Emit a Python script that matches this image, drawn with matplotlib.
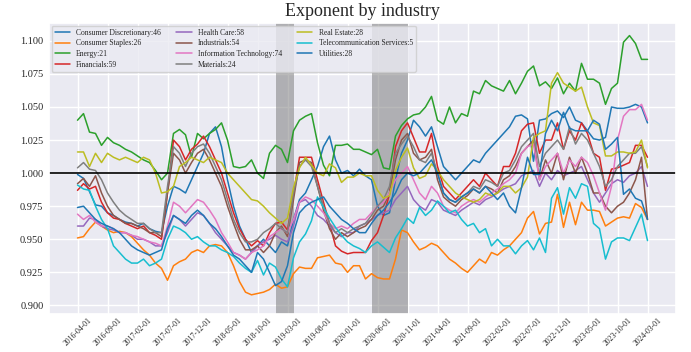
import numpy as np
import pandas as pd
import matplotlib
matplotlib.use('Agg')
import matplotlib.pyplot as plt
import seaborn as sns

# monthly observations, 2016-04 .. 2024-03
dates = pd.date_range('2016-04-01', periods=96, freq='MS').strftime('%Y-%m-%d').tolist()

industries = ['Consumer Discretionary', 'Consumer Staples', 'Energy', 'Financials',
              'Health Care', 'Industrials', 'Information Technology', 'Materials',
              'Real Estate', 'Telecommunication Services', 'Utilities']
counts = [46, 26, 21, 59, 58, 54, 74, 24, 28, 5, 28]

consumer_discretionary = [
    0.999, 0.996, 0.986, 0.976, 0.975, 0.970, 0.968, 0.965, 0.963, 0.962, 0.960, 0.962,
    0.958, 0.956, 0.955, 0.975, 0.990, 0.988, 0.985, 0.995, 1.005, 1.015, 1.030, 1.035,
    1.020, 0.995, 0.975, 0.960, 0.950, 0.940, 0.945, 0.950, 0.945, 0.940, 0.948, 0.945,
    0.965, 0.980, 0.985, 0.995, 1.005, 1.020, 1.028, 1.010, 1.000, 1.002, 0.998, 1.003,
    0.998, 0.995, 0.975, 0.968, 0.970, 0.995, 1.015, 1.025, 1.040, 1.035, 1.028, 1.035,
    1.020, 1.005, 1.000, 0.995, 1.000, 1.005, 1.010, 1.008, 1.015, 1.020, 1.025, 1.030,
    1.035, 1.043, 1.044, 1.041, 1.009, 1.040, 1.041, 1.045, 1.047, 1.042, 1.050, 1.040,
    1.038, 1.032, 1.026, 1.025, 1.027, 1.050, 1.049, 1.049, 1.050, 1.052, 1.050, 1.038]
consumer_staples = [
    0.951, 0.952, 0.958, 0.963, 0.960, 0.957, 0.955, 0.956, 0.955, 0.952, 0.947, 0.942,
    0.938, 0.932, 0.928, 0.919, 0.930, 0.933, 0.935, 0.940, 0.942, 0.940, 0.945, 0.946,
    0.945, 0.940, 0.930, 0.918, 0.910, 0.908, 0.909, 0.910, 0.912, 0.916, 0.913, 0.914,
    0.924, 0.929, 0.928, 0.928, 0.936, 0.937, 0.938, 0.932, 0.931, 0.925, 0.930, 0.930,
    0.920, 0.924, 0.921, 0.920, 0.920, 0.935, 0.957, 0.955, 0.948, 0.942, 0.944, 0.947,
    0.945, 0.940, 0.935, 0.932, 0.928, 0.925, 0.930, 0.935, 0.932, 0.940, 0.938, 0.942,
    0.945, 0.950, 0.955, 0.966, 0.971, 0.954, 0.962, 0.963, 0.984, 0.959, 0.978, 0.961,
    0.978, 0.972, 0.972, 0.971, 0.960, 0.963, 0.966, 0.967, 0.966, 0.977, 0.974, 0.965]
energy = [
    1.040, 1.045, 1.031, 1.030, 1.021, 1.027, 1.023, 1.021, 1.018, 1.016, 1.013, 1.010,
    1.008, 1.002, 0.995, 1.000, 1.030, 1.033, 1.029, 1.012, 1.030, 1.026, 1.030, 1.033,
    1.038, 1.025, 1.005, 1.004, 1.005, 1.010, 1.000, 0.996, 1.015, 1.021, 1.018, 1.008,
    1.032, 1.040, 1.043, 1.045, 1.023, 1.006, 0.998, 1.021, 1.021, 1.022, 1.018, 1.018,
    1.016, 1.014, 1.018, 1.004, 1.003, 1.028, 1.036, 1.041, 1.044, 1.045, 1.050, 1.058,
    1.040, 1.037, 1.050, 1.038, 1.045, 1.043, 1.062, 1.060, 1.070, 1.066, 1.064, 1.062,
    1.070, 1.060, 1.068, 1.077, 1.081, 1.066, 1.069, 1.064, 1.072, 1.060, 1.068, 1.062,
    1.083, 1.071, 1.071, 1.068, 1.052, 1.064, 1.068, 1.099, 1.104, 1.098, 1.086, 1.086]
financials = [
    0.987, 0.992, 0.988, 0.990, 0.978, 0.970, 0.966, 0.965, 0.962, 0.960, 0.958, 0.960,
    0.955, 0.953, 0.950, 0.985, 1.025, 1.020, 1.010, 1.018, 1.022, 1.028, 1.020, 1.010,
    1.000, 0.985, 0.970, 0.958, 0.950, 0.945, 0.949, 0.945, 0.955, 0.962, 0.963, 0.957,
    0.984, 1.012, 1.012, 1.012, 0.995, 0.978, 0.962, 0.945, 0.941, 0.939, 0.940, 0.940,
    0.940, 0.949, 0.955, 0.968, 0.984, 1.020, 1.032, 1.038, 1.027, 1.016, 1.016, 1.030,
    1.005, 0.990, 0.985, 0.980, 0.985, 0.990, 0.995, 0.990, 1.000, 0.995, 0.990, 1.005,
    1.005, 1.015, 1.032, 1.037, 1.038, 1.015, 1.025, 1.025, 1.038, 1.018, 1.032, 1.025,
    1.038, 1.030, 1.015, 1.012, 0.987, 1.003, 1.004, 1.006, 1.008, 1.021, 1.021, 1.012]
health_care = [
    0.960, 0.960, 0.966, 0.965, 0.960, 0.958, 0.957, 0.955, 0.955, 0.953, 0.950, 0.950,
    0.948, 0.945, 0.945, 0.955, 0.968, 0.965, 0.960, 0.965, 0.970, 0.968, 0.962, 0.955,
    0.950, 0.945, 0.940, 0.938, 0.935, 0.940, 0.945, 0.948, 0.950, 0.953, 0.950, 0.948,
    0.960, 0.978, 0.980, 0.975, 0.968, 0.965, 0.960, 0.955, 0.952, 0.955, 0.955, 0.960,
    0.962, 0.965, 0.968, 0.970, 0.972, 0.980, 0.985, 0.990, 0.980, 0.975, 0.972, 0.980,
    0.978, 0.972, 0.970, 0.968, 0.972, 0.975, 0.978, 0.976, 0.980, 0.982, 0.985, 0.988,
    0.990, 0.992, 0.998, 1.000, 1.002, 0.990, 1.000, 0.995, 1.002, 0.998, 1.000, 1.002,
    1.005, 0.995, 0.985, 0.978, 0.985, 0.992, 0.995, 0.993, 0.998, 1.000, 1.005, 0.990]
industrials = [
    0.992, 0.996, 0.990, 0.998, 0.985, 0.975, 0.968, 0.965, 0.962, 0.962, 0.960, 0.958,
    0.955, 0.955, 0.952, 0.985, 1.015, 1.010, 1.000, 1.008, 1.015, 1.018, 1.010, 1.000,
    0.990, 0.975, 0.962, 0.950, 0.942, 0.942, 0.945, 0.940, 0.945, 0.955, 0.960, 0.952,
    0.980, 1.008, 1.010, 1.008, 0.990, 0.972, 0.958, 0.950, 0.955, 0.952, 0.955, 0.958,
    0.960, 0.965, 0.972, 0.975, 0.985, 1.010, 1.025, 1.030, 1.015, 1.010, 1.012, 1.018,
    0.995, 0.982, 0.978, 0.975, 0.980, 0.983, 0.988, 0.985, 0.990, 0.988, 0.985, 0.995,
    0.998, 1.005, 1.015, 1.020, 1.025, 0.995, 1.010, 1.000, 1.015, 0.995, 1.012, 1.000,
    1.012, 1.000, 0.985, 0.985, 0.975, 0.970, 0.975, 0.978, 0.985, 0.995, 1.012, 0.965]
information_technology = [
    0.969, 0.965, 0.968, 0.963, 0.960, 0.960, 0.958, 0.955, 0.955, 0.953, 0.952, 0.950,
    0.948, 0.947, 0.945, 0.960, 0.978, 0.975, 0.970, 0.975, 0.980, 0.978, 0.972, 0.965,
    0.955, 0.948, 0.940, 0.938, 0.935, 0.940, 0.942, 0.945, 0.952, 0.955, 0.958, 0.955,
    0.965, 0.978, 0.982, 0.980, 0.975, 0.970, 0.962, 0.958, 0.960, 0.958, 0.962, 0.965,
    0.965, 0.970, 0.975, 0.978, 0.985, 0.995, 1.000, 1.005, 0.995, 0.985, 0.980, 0.990,
    0.985, 0.975, 0.972, 0.970, 0.975, 0.978, 0.980, 0.978, 0.982, 0.985, 0.988, 0.992,
    0.995, 1.000, 1.015, 1.020, 1.022, 0.995, 1.005, 1.010, 1.015, 1.000, 1.010, 1.005,
    1.012, 1.008, 0.998, 0.985, 0.972, 0.990, 1.025, 1.043, 1.048, 1.048, 1.052, 1.040]
materials = [
    1.004, 1.008, 1.003, 1.002, 0.995, 0.985, 0.978, 0.972, 0.968, 0.965, 0.962, 0.962,
    0.958, 0.955, 0.955, 0.990, 1.020, 1.015, 1.005, 1.015, 1.020, 1.022, 1.015, 1.005,
    0.995, 0.980, 0.965, 0.955, 0.948, 0.948, 0.950, 0.955, 0.958, 0.962, 0.958, 0.955,
    0.985, 1.005, 1.010, 1.005, 0.990, 0.975, 0.962, 0.955, 0.958, 0.955, 0.958, 0.960,
    0.962, 0.968, 0.975, 0.980, 0.990, 1.015, 1.022, 1.028, 1.020, 1.010, 1.008, 1.015,
    1.000, 0.985, 0.980, 0.978, 0.982, 0.985, 0.990, 0.988, 0.995, 0.993, 0.990, 1.000,
    1.002, 1.010, 1.020, 1.025, 1.030, 1.005, 1.015, 1.020, 1.025, 1.018, 1.035, 1.022,
    1.030, 1.025, 1.015, 1.005, 0.990, 0.995, 1.005, 1.010, 1.015, 1.015, 1.020, 1.005]
real_estate = [
    1.016, 1.016, 1.005, 1.015, 1.008, 1.015, 1.012, 1.010, 1.012, 1.010, 1.008, 1.012,
    1.010, 1.000, 0.985, 0.986, 0.990, 1.005, 1.008, 1.012, 1.010, 1.008, 1.012, 1.010,
    1.008, 1.000, 0.995, 0.990, 0.985, 0.980, 0.979, 0.975, 0.970, 0.966, 0.962, 0.966,
    0.989, 1.004, 1.012, 1.006, 1.000, 0.998, 1.007, 1.004, 0.993, 0.997, 0.997, 1.000,
    0.998, 0.998, 0.987, 0.981, 0.983, 1.002, 1.012, 1.019, 1.004, 0.996, 0.998, 1.007,
    1.002, 0.995, 0.990, 0.985, 0.982, 0.980, 0.978, 0.980, 0.985, 0.983, 0.985, 0.990,
    0.990, 0.985, 0.989, 0.997, 1.027, 1.030, 1.032, 1.068, 1.076, 1.068, 1.065, 1.062,
    1.065, 1.050, 1.038, 1.036, 1.013, 1.013, 1.016, 1.016, 1.015, 1.016, 1.025, 1.004]
telecom = [
    0.991, 0.988, 0.987, 0.975, 0.965, 0.958, 0.945, 0.940, 0.935, 0.932, 0.932, 0.935,
    0.930, 0.932, 0.935, 0.950, 0.960, 0.958, 0.955, 0.950, 0.952, 0.948, 0.945, 0.945,
    0.942, 0.940, 0.937, 0.932, 0.928, 0.925, 0.934, 0.923, 0.932, 0.929, 0.920, 0.914,
    0.936, 0.948, 0.954, 0.964, 0.982, 0.974, 0.966, 0.959, 0.953, 0.948, 0.945, 0.943,
    0.940, 0.945, 0.948, 0.944, 0.940, 0.951, 0.958, 0.966, 0.962, 0.974, 0.968, 0.972,
    0.979, 0.975, 0.970, 0.972, 0.965, 0.960, 0.962, 0.955, 0.958, 0.945, 0.950, 0.945,
    0.945, 0.939, 0.945, 0.949, 0.942, 0.951, 0.940, 0.981, 0.989, 0.969, 0.989, 0.981,
    0.992, 0.990, 0.962, 0.958, 0.935, 0.948, 0.951, 0.951, 0.949, 0.959, 0.969, 0.949]
utilities = [
    0.974, 0.975, 0.970, 0.965, 0.962, 0.960, 0.958, 0.955, 0.950, 0.945, 0.942, 0.940,
    0.938, 0.940, 0.942, 0.958, 0.968, 0.965, 0.962, 0.968, 0.972, 0.968, 0.962, 0.958,
    0.952, 0.945, 0.938, 0.935, 0.930, 0.925, 0.940, 0.935, 0.925, 0.915, 0.918, 0.930,
    0.955, 0.970, 0.975, 0.978, 0.980, 0.982, 0.975, 0.970, 0.965, 0.962, 0.958, 0.955,
    0.955, 0.962, 0.968, 0.972, 0.978, 0.985, 0.995, 1.000, 0.998, 1.000, 1.005, 1.010,
    1.000, 0.985, 0.980, 0.978, 0.982, 0.985, 0.988, 0.985, 0.990, 0.985, 0.980, 0.985,
    0.975, 0.970, 0.989, 1.012, 0.999, 0.999, 1.030, 1.040, 1.032, 1.046, 1.034, 1.032,
    1.032, 1.032, 1.040, 1.037, 1.018, 1.022, 1.027, 0.984, 0.988, 0.981, 0.979, 0.965]

series = [consumer_discretionary, consumer_staples, energy, financials, health_care,
          industrials, information_technology, materials, real_estate, telecom, utilities]

# shaded periods (start, end) in months
shade_periods = [('2019-01-01', '2019-04-01'), ('2020-05-01', '2020-11-01')]

sns.set_theme(style='darkgrid')
plt.rcParams['font.family'] = ['Liberation Serif', 'DejaVu Serif']
colors = plt.get_cmap('tab10').colors

fig = plt.figure(figsize=(6.91, 3.52), dpi=100)
ax = fig.add_axes([49 / 691, 38 / 352, 627 / 691, 291 / 352])

x = np.arange(len(dates))
for k, (name, n, vals) in enumerate(zip(industries, counts, series)):
    ax.plot(x, vals, linewidth=1.1, color=colors[k % 10], label=f'{name}:{n}')

for start, end in shade_periods:
    ax.axvspan(dates.index(start), dates.index(end), color='grey', alpha=0.55, lw=0)

ax.axhline(1.0, color='black', linewidth=1.2)

ax.set_xlim(-4.75, 99.75)
ax.set_ylim(0.8935, 1.1135)
ax.set_yticks(np.arange(0.9, 1.1001, 0.025))
ax.yaxis.set_major_formatter(matplotlib.ticker.FormatStrFormatter('%.3f'))
ax.set_xticks(x[::5])
ax.set_xticklabels(dates[::5], rotation=45, fontsize=5.6)
ax.tick_params(axis='both', length=0)
ax.tick_params(axis='y', labelsize=7.5, pad=4)
ax.tick_params(axis='x', pad=1.5)

ax.set_title('Exponent by industry', fontsize=13, pad=5)
ax.legend(loc='upper left', ncol=3, fontsize=5.5, labelspacing=0.35,
          handlelength=2.0, columnspacing=2.0, borderaxespad=0.35)

fig.savefig('out.png', dpi=100)
